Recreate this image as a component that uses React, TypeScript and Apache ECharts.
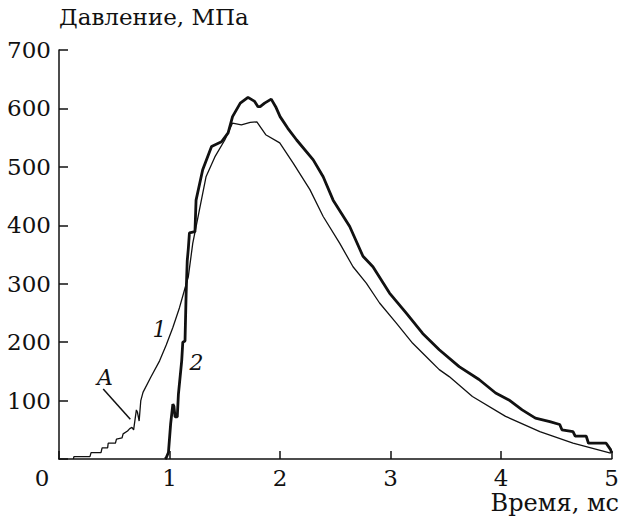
import React, { useEffect, useRef } from "react";
import * as echarts from "echarts";

const xTicks = [0, 1, 2, 3, 4, 5];
const yTicks = [0, 100, 200, 300, 400, 500, 600, 700];

const curve1: [number, number][] = [
  [0.13, 0], [0.135, 4], [0.28, 4], [0.29, 11], [0.38, 11], [0.39, 19], [0.44, 19],
  [0.445, 27], [0.51, 27], [0.52, 34], [0.57, 36], [0.58, 43], [0.62, 48], [0.64, 52],
  [0.66, 54], [0.675, 50], [0.70, 84], [0.71, 80], [0.725, 65], [0.74, 100], [0.76, 114],
  [0.83, 140], [0.91, 168], [0.97, 195], [1.03, 225], [1.09, 259], [1.15, 299], [1.17, 312],
  [1.21, 369], [1.27, 426], [1.33, 483], [1.41, 517], [1.50, 546], [1.57, 575], [1.65, 572],
  [1.73, 576], [1.79, 577], [1.87, 555], [1.997, 541], [2.12, 506], [2.27, 461], [2.39, 415],
  [2.54, 369], [2.66, 329], [2.78, 301], [2.90, 267], [3.05, 233], [3.20, 198], [3.35, 170],
  [3.44, 153], [3.53, 141], [3.74, 107], [4.04, 73], [4.35, 47], [4.65, 27], [4.99, 10],
];

const curve2: [number, number][] = [
  [0.96, 0], [0.97, 2], [0.99, 11], [1.01, 60], [1.03, 94], [1.04, 90], [1.05, 72],
  [1.07, 72], [1.08, 110], [1.11, 168], [1.12, 200], [1.14, 202], [1.15, 282], [1.16, 339],
  [1.17, 360], [1.18, 387], [1.23, 389], [1.24, 443], [1.30, 495], [1.38, 535], [1.47, 543],
  [1.53, 558], [1.57, 586], [1.64, 609], [1.71, 619], [1.77, 612], [1.80, 603], [1.82, 603],
  [1.86, 609], [1.92, 616], [1.96, 603], [2.0, 586], [2.07, 566], [2.15, 546], [2.30, 512],
  [2.39, 483], [2.48, 443], [2.63, 398], [2.75, 347], [2.84, 329], [2.99, 284], [3.14, 250],
  [3.29, 215], [3.44, 187], [3.62, 158], [3.80, 136], [3.95, 113], [4.07, 101], [4.19, 84],
  [4.31, 70], [4.44, 64], [4.53, 59], [4.55, 50], [4.65, 47], [4.67, 39], [4.77, 39],
  [4.79, 27], [4.95, 27], [4.99, 16], [5.0, 10],
];

const annotations = [
  { name: "1", coord: [0.91, 222] },
  { name: "2", coord: [1.245, 165] },
  { name: "A", coord: [0.415, 140] },
];
const arrowFrom = [0.40, 120];
const arrowTo = [0.645, 68];

const yTitle = "Давление, МПа";
const xTitle = "Время, мс";

const FONT = "DejaVu Serif";

export default function App() {
  const ref = useRef<HTMLDivElement>(null);
  useEffect(() => {
    if (!ref.current) return;
    const chart = echarts.init(ref.current, undefined, { renderer: "svg" });
    chart.setOption({
      animation: false,
      backgroundColor: "#fff",
      textStyle: { fontFamily: FONT, color: "#111" },
      grid: { left: 59, right: 9, top: 50, bottom: 63 },
      xAxis: {
        type: "value",
        min: xTicks[0],
        max: xTicks[xTicks.length - 1],
        interval: 1,
        axisLine: { lineStyle: { color: "#111", width: 1.5 } },
        axisTick: { inside: true, length: 8, lineStyle: { color: "#111", width: 1.5 } },
        splitLine: { show: false },
        axisLabel: {
          fontFamily: FONT,
          fontSize: 23,
          color: "#111",
          margin: 7,
          formatter: (v: number) => (v === 0 ? "{z|0}" : String(v)),
          rich: { z: { fontFamily: FONT, fontSize: 23, color: "#111", padding: [0, 34, 0, 0] } },
        },
      },
      yAxis: {
        type: "value",
        min: yTicks[0],
        max: yTicks[yTicks.length - 1],
        interval: 100,
        axisLine: { show: true, lineStyle: { color: "#111", width: 1.5 } },
        axisTick: { show: true, inside: true, length: 9, lineStyle: { color: "#111", width: 1.5 } },
        splitLine: { show: false },
        axisLabel: {
          fontFamily: FONT,
          fontSize: 23,
          color: "#111",
          margin: 8,
          formatter: (v: number) => (v === 0 ? "" : String(v)),
        },
      },
      graphic: [
        {
          type: "text",
          left: 59,
          top: 5,
          style: { text: yTitle, fontFamily: FONT, fontSize: 23, fill: "#111" },
        },
        {
          type: "text",
          right: 3,
          top: 491,
          style: { text: xTitle, fontFamily: FONT, fontSize: 24, fill: "#111" },
        },
      ],
      series: [
        {
          type: "line",
          data: curve1,
          showSymbol: false,
          symbol: "none",
          lineStyle: { color: "#111", width: 1.3 },
          markLine: {
            silent: true,
            symbol: ["none", "arrow"],
            symbolSize: [0, 11],
            lineStyle: { color: "#111", width: 1.5, type: "solid" },
            label: { show: false },
            data: [[{ coord: arrowFrom }, { coord: arrowTo }]],
          },
          markPoint: {
            silent: true,
            symbol: "rect",
            symbolSize: 1,
            itemStyle: { color: "rgba(0,0,0,0)" },
            label: {
              show: true,
              position: "inside",
              fontFamily: FONT,
              fontStyle: "italic",
              fontSize: 22,
              color: "#111",
              formatter: (p: any) => p.name,
            },
            data: annotations.map((a) => ({ name: a.name, coord: a.coord })),
          },
        },
        {
          type: "line",
          data: curve2,
          showSymbol: false,
          symbol: "none",
          lineStyle: { color: "#111", width: 2.8 },
        },
      ],
    });
    return () => chart.dispose();
  }, []);
  return (
    <div
      ref={ref}
      style={{ position: "fixed", left: 0, top: 0, width: 622, height: 522, background: "#fff" }}
    />
  );
}
